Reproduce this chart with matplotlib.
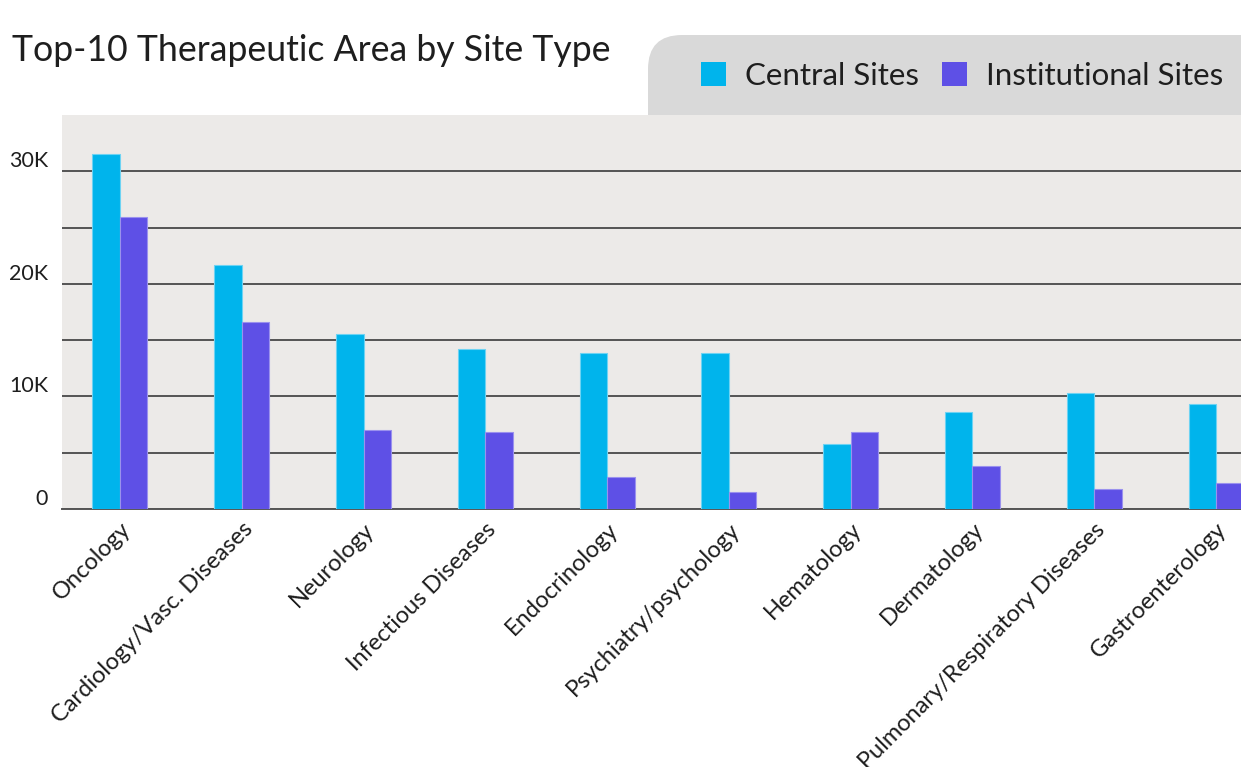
import matplotlib
matplotlib.use("Agg")
import matplotlib.pyplot as plt
import numpy as np
from matplotlib.patches import FancyBboxPatch, Patch
from matplotlib.ticker import FuncFormatter, FixedLocator

# ---------------------------------------------------------------------------
# Data
# ---------------------------------------------------------------------------
areas = ["Oncology", "Cardiology/Vasc. Diseases", "Neurology", "Infectious Diseases",
         "Endocrinology", "Psychiatry/psychology", "Hematology", "Dermatology",
         "Pulmonary/Respiratory Diseases", "Gastroenterology"]
central_sites = [31560, 21680, 15590, 14200, 13900, 13870, 5740, 8580, 10320, 9290]
institutional_sites = [25940, 16620, 6980, 6860, 2840, 1480, 6860, 3790, 1750, 2280]
series_names = ["Central Sites", "Institutional Sites"]
major_ticks = [0, 10000, 20000, 30000]
minor_ticks = [5000, 15000, 25000]

CENTRAL = "#00B4EC"
INSTITUTIONAL = "#5E50E6"
TEXT = "#1E1E1E"

plt.rcParams["font.family"] = ["Lato", "DejaVu Sans"]

fig = plt.figure(figsize=(12.41, 7.67), dpi=100)
W, H = 1241, 767

# legend panel: grey box, rounded top-left corner, bottom hidden behind the axes
panel = FancyBboxPatch((6.48, (H - 160) / 100), 8.0, 1.25,
                       boxstyle="round,pad=0,rounding_size=0.34",
                       transform=fig.dpi_scale_trans, facecolor="#D9D9D9",
                       edgecolor="none", zorder=-1)
fig.patches.append(panel)

ax = fig.add_axes([62 / W, 1 - 509 / H, 1 - 62 / W, (509 - 115) / H])
ax.set_facecolor("#ECEAE8")

x = np.arange(len(areas))
bw = 0.226
ax.bar(x - bw / 2, central_sites, bw, color=CENTRAL, edgecolor="#6DD3F3",
       linewidth=0.8, zorder=3)
ax.bar(x + bw / 2, institutional_sites, bw, color=INSTITUTIONAL, edgecolor="#9A91EE",
       linewidth=0.8, zorder=3)

ax.set_xlim(-0.476, 9.205)
ax.set_ylim(0, 35000)
ax.yaxis.set_major_locator(FixedLocator(major_ticks))
ax.yaxis.set_minor_locator(FixedLocator(minor_ticks))
ax.yaxis.set_major_formatter(FuncFormatter(lambda v, p: "0" if v == 0 else f"{int(v / 1000)}K"))
ax.grid(axis="y", which="both", color="#3A3A3A", linewidth=1.2, zorder=1)
ax.set_axisbelow(True)
for s in ["top", "right", "left"]:
    ax.spines[s].set_visible(False)
ax.spines["bottom"].set_color("#555555")
ax.spines["bottom"].set_linewidth(1.4)

ax.tick_params(axis="both", which="both", length=0)
ax.tick_params(axis="y", labelsize=15.5, labelcolor=TEXT, pad=10)
for lbl in ax.get_yticklabels():
    lbl.set_va("bottom")

ax.set_xticks(x)
ax.set_xticklabels(areas, rotation=45, ha="right", rotation_mode="anchor",
                   fontsize=17, color=TEXT)
ax.tick_params(axis="x", pad=7)

fig.text(12 / W, 1 - 61 / H, "Top-10 Therapeutic Area by Site Type", fontsize=25.7,
         color=TEXT, va="baseline", ha="left")

handles = [Patch(facecolor=CENTRAL), Patch(facecolor=INSTITUTIONAL)]
fig.legend(handles, series_names, loc="center right",
           bbox_to_anchor=(1 - 18 / W, 1 - 76 / H), ncol=2, frameon=False,
           fontsize=22.5, handlelength=0.8, handleheight=0.8, handletextpad=0.6,
           columnspacing=0.74, labelcolor=TEXT, borderaxespad=0, borderpad=0)

fig.savefig("out.png", dpi=100)
